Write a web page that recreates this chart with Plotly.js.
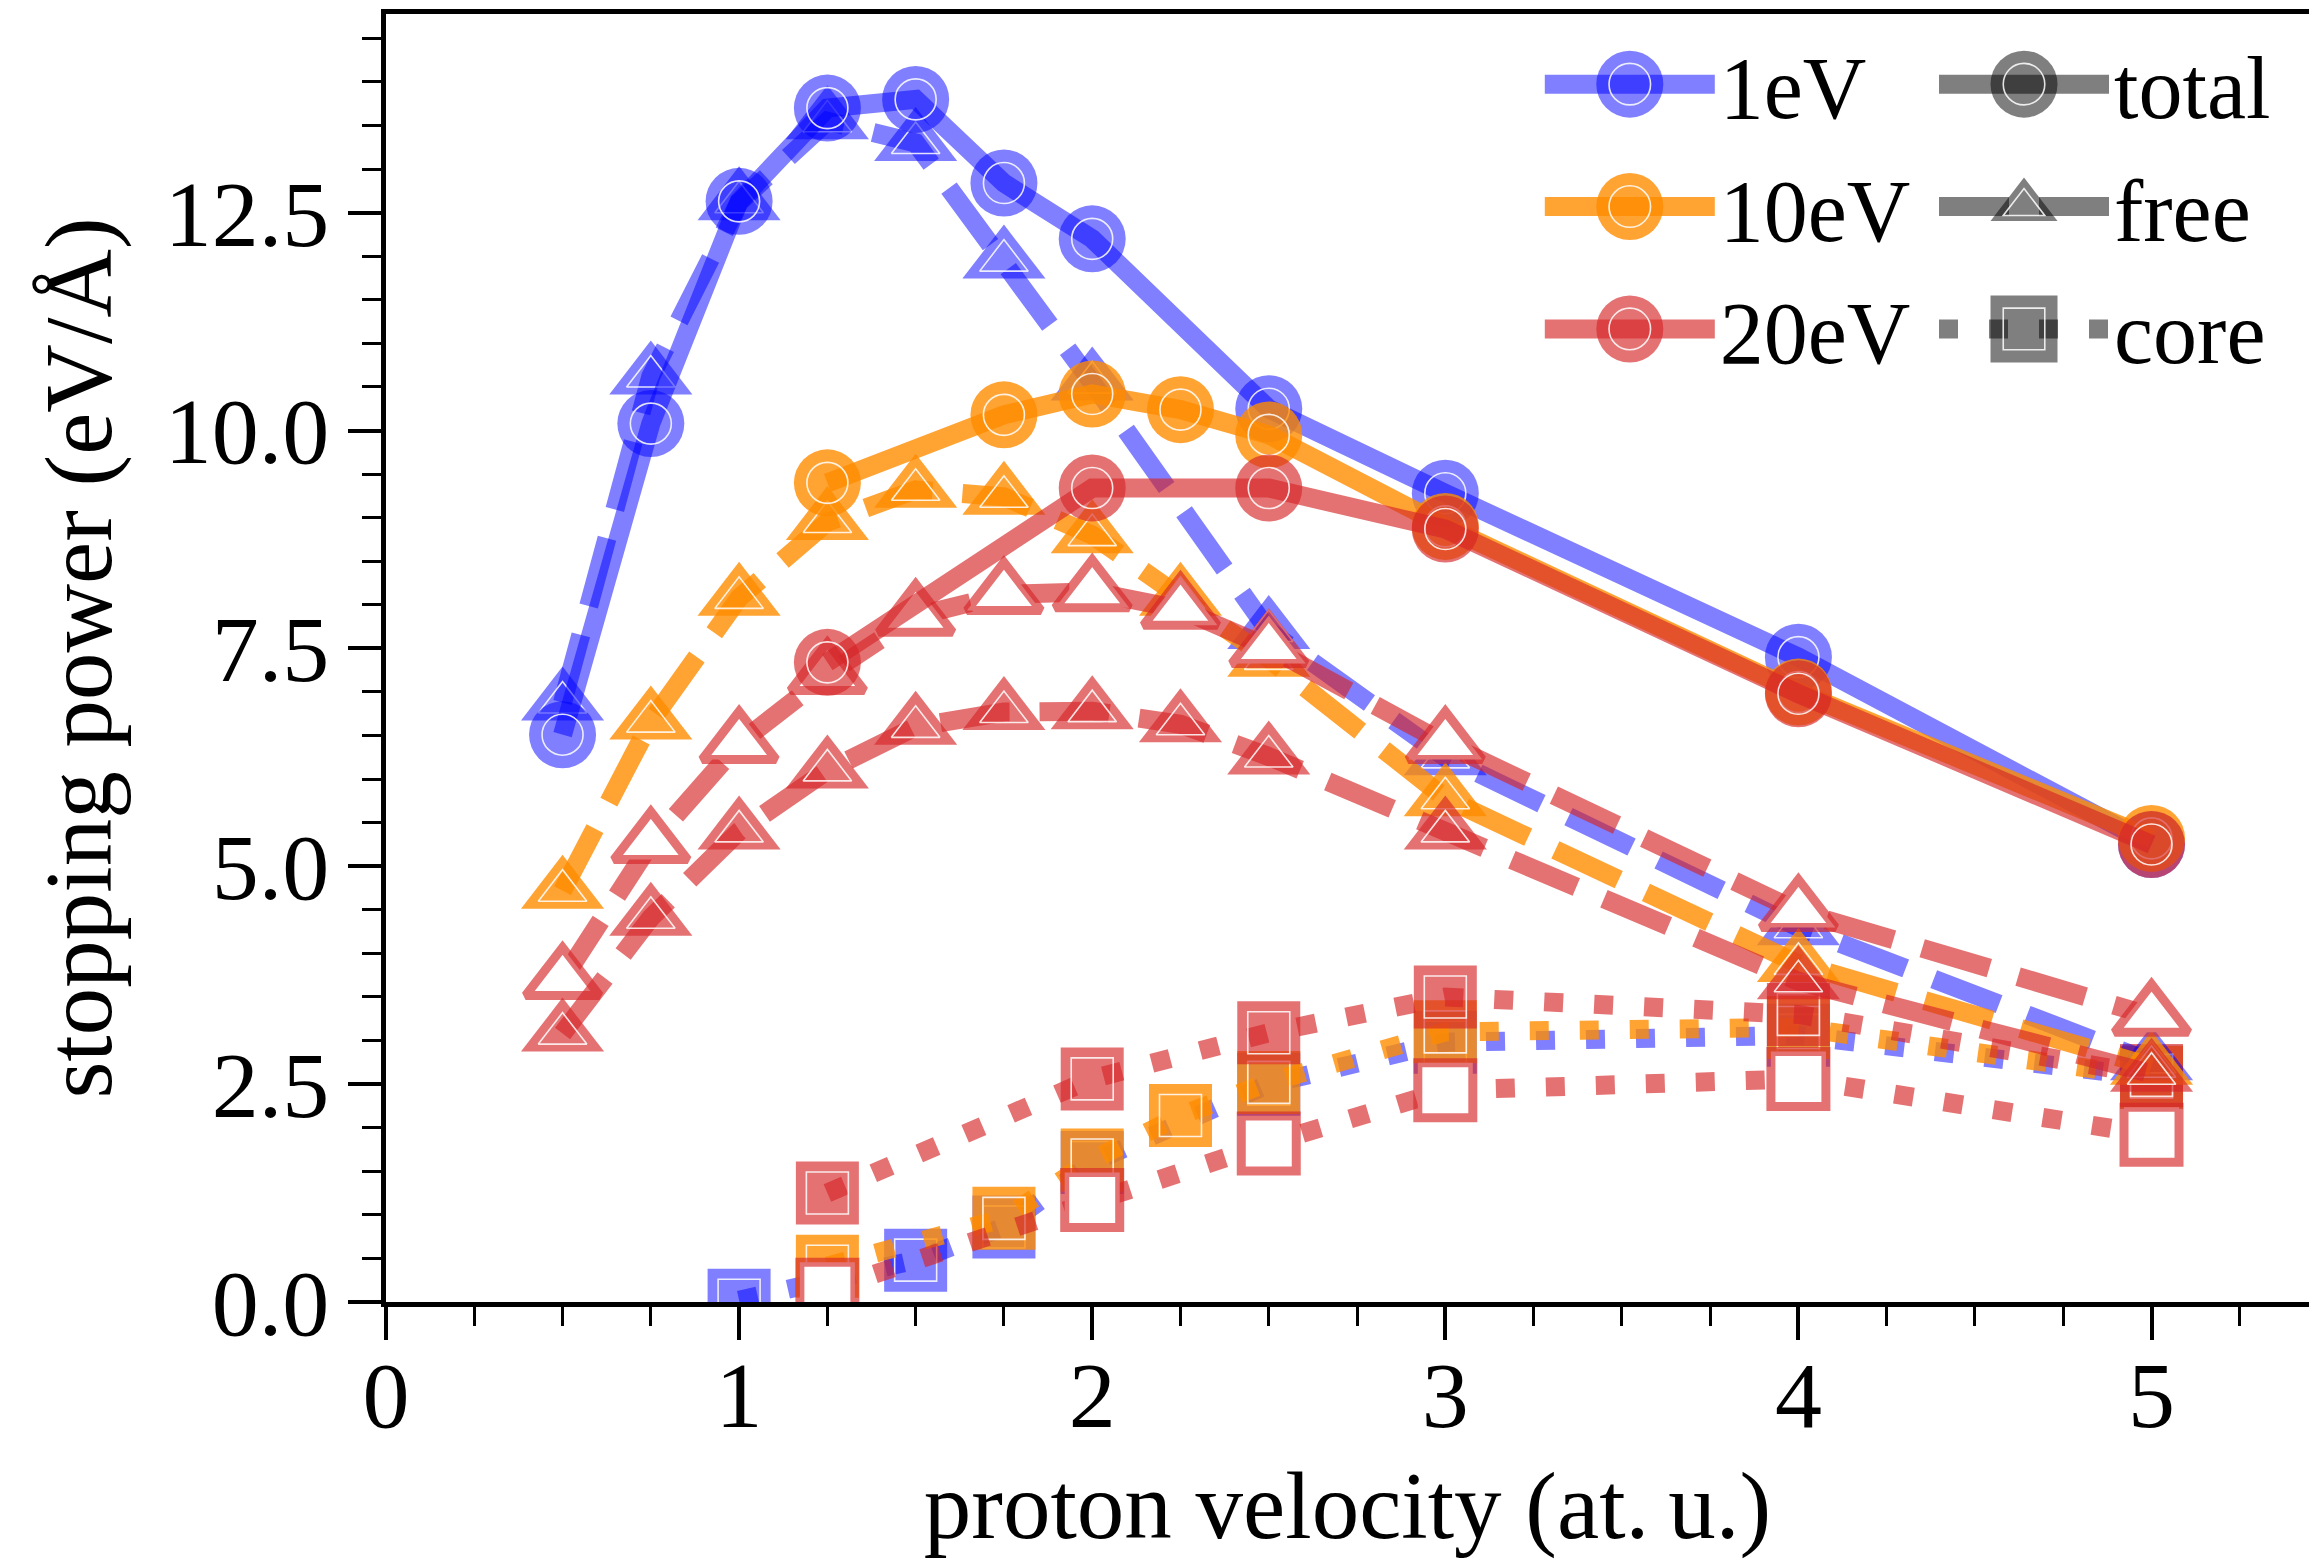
<!DOCTYPE html>
<html>
<head>
<meta charset="utf-8">
<script src="https://cdn.plot.ly/plotly-3.0.1.min.js"></script>
<style>html,body{margin:0;padding:0;background:#fff;}#plot{width:2309px;height:1559px;}</style>
</head>
<body>
<div id="plot"></div>
<script>
// ---------------- data ----------------
// proton velocity (at. u.)
const vBlue      = [0.5, 0.75, 1.0, 1.25, 1.5, 1.75, 2.0, 2.5, 3.0, 4.0, 5.0];
const vBlueCore  = [1.0, 1.5, 1.75, 2.0, 2.5, 3.0, 4.0, 5.0];
const vOrange    = [1.25, 1.75, 2.0, 2.25, 2.5, 3.0, 4.0, 5.0];
const vFree      = [0.5, 0.75, 1.0, 1.25, 1.5, 1.75, 2.0, 2.25, 2.5, 3.0, 4.0, 5.0];
const vRed       = [1.25, 2.0, 2.5, 3.0, 4.0, 5.0];

// 1 eV
const totalBlue  = [6.51, 10.08, 12.63, 13.70, 13.80, 12.84, 12.20, 10.25, 9.28, 7.40, 5.25];
const freeBlue   = [6.88, 10.62, 12.62, 13.55, 13.30, 11.95, 10.55, 7.70, 6.25, 4.30, 2.75];
const coreBlue   = [0.02, 0.48, 0.86, 1.60, 2.50, 2.98, 3.06, 2.58];
// 10 eV
const totalOrange = [9.40, 10.18, 10.42, 10.24, 9.95, 8.90, 7.00, 5.32];
const freeOrange  = [4.72, 6.66, 8.08, 8.95, 9.32, 9.24, 8.80, 8.08, 7.38, 5.78, 3.88, 2.70];
const coreOrange  = [0.41, 0.96, 1.63, 2.14, 2.52, 3.10, 3.15, 2.58];
// 20 eV (two decompositions: A hollow markers, B filled markers)
const totalRed   = [7.34, 9.34, 9.34, 8.87, 6.98, 5.25];
const freeRedA   = [3.70, 5.26, 6.41, 7.20, 7.87, 8.12, 8.15, 7.95, 7.51, 6.41, 4.48, 3.28];
const freeRedB   = [3.08, 4.41, 5.40, 6.10, 6.60, 6.77, 6.78, 6.63, 6.26, 5.40, 3.68, 2.62];
const coreRedA   = [0.14, 1.17, 1.82, 2.43, 2.56, 1.92];
const coreRedB   = [1.25, 2.56, 3.09, 3.50, 3.30, 2.60];

const tempNames  = ['1eV', '10eV', '20eV'];
const partNames  = ['total', 'free', 'core'];

// ---------------- styles ----------------
const FONT = 'Liberation Serif';
const C_BLUE = 'rgba(0,0,255,0.5)';
const C_ORANGE = 'rgba(255,140,0,0.8)';
const C_RED = 'rgba(214,39,40,0.65)';
const C_GRAY = 'rgba(0,0,0,0.5)';
const LW = 19;
const DASH = {total: 'solid', free: '70px,30px', core: '19px,31px'};
const SYM = {total: 'circle', free: 'triangle-up', core: 'square'};
const SIZE = {total: 67, free: 72, core: 63};
const RING = {total: 41, free: 42, core: 42};

const traces = [];
function addSeries(x, y, color, part, filled, opts) {
  opts = opts || {};
  traces.push({
    type: 'scatter', mode: 'lines+markers', x: x, y: y,
    name: opts.name || part,
    showlegend: !!opts.name,
    legend: opts.legend || 'legend',
    legendgroup: opts.group || undefined,
    hoverinfo: 'skip',
    line: {color: color, width: LW, dash: DASH[part]},
    marker: filled
      ? {symbol: SYM[part], size: SIZE[part], color: color, line: {width: 0}}
      : {symbol: SYM[part], size: SIZE[part] - 8, color: 'rgba(255,255,255,1)', line: {color: color, width: 9}}
  });
  if (filled) {
    traces.push({
      type: 'scatter', mode: 'markers', x: x, y: y, showlegend: false, hoverinfo: 'skip',
      marker: {symbol: SYM[part] + '-open', size: RING[part], color: 'rgba(255,255,255,0.85)', line: {width: 1.6}}
    });
  }
}

// core
addSeries(vBlueCore, coreBlue, C_BLUE, 'core', true);
addSeries(vOrange, coreOrange, C_ORANGE, 'core', true);
addSeries(vRed, coreRedB, C_RED, 'core', true);
addSeries(vRed, coreRedA, C_RED, 'core', false);
// free
addSeries(vBlue, freeBlue, C_BLUE, 'free', true);
addSeries(vFree, freeOrange, C_ORANGE, 'free', true);
addSeries(vFree, freeRedA, C_RED, 'free', false);
addSeries(vFree, freeRedB, C_RED, 'free', true);
// total
addSeries(vBlue, totalBlue, C_BLUE, 'total', true, {name: tempNames[0], group: 'a1', legend: 'legend'});
addSeries(vOrange, totalOrange, C_ORANGE, 'total', true, {name: tempNames[1], group: 'a2', legend: 'legend'});
addSeries(vRed, totalRed, C_RED, 'total', true, {name: tempNames[2], group: 'a3', legend: 'legend'});

// legend proxies for the component styles (no data)
partNames.forEach(function (p, i) {
  traces.push({
    type: 'scatter', mode: 'lines+markers', x: [null], y: [null], name: p,
    legend: 'legend2', legendgroup: 'b' + (i + 1), hoverinfo: 'skip',
    line: {color: C_GRAY, width: LW, dash: DASH[p]},
    marker: {symbol: SYM[p], size: SIZE[p], color: C_GRAY, line: {width: 0}}
  });
});

const axisCommon = {
  showgrid: false, zeroline: false, showline: true, linewidth: 5, linecolor: 'black',
  ticks: 'outside', ticklen: 33, tickwidth: 4, tickcolor: 'black',
  tickfont: {family: FONT, size: 94, color: 'black'}
};

const legendCommon = {
  xanchor: 'left', yanchor: 'top', bgcolor: 'rgba(0,0,0,0)', borderwidth: 0,
  font: {family: FONT, size: 88, color: 'black'},
  itemwidth: 170, tracegroupgap: 5, traceorder: 'grouped', itemclick: false, itemdoubleclick: false
};

const layout = {
  width: 2309, height: 1559,
  margin: {l: 386, r: 0, t: 14, b: 257},
  paper_bgcolor: 'white', plot_bgcolor: 'white',
  font: {family: FONT, size: 94, color: 'black'},
  showlegend: true,
  xaxis: Object.assign({}, axisCommon, {
    range: [0, 5.446], tick0: 0, dtick: 1, mirror: true, ticklabelstandoff: -26,
    minor: {dtick: 0.25, tick0: 0, ticks: 'outside', ticklen: 19, tickwidth: 3, tickcolor: 'black', showgrid: false},
    title: {text: 'proton velocity (at.\u2009u.)', font: {family: FONT, size: 95, color: 'black'}, standoff: 52}
  }),
  yaxis: Object.assign({}, axisCommon, {
    range: [0, 14.78], tick0: 0, dtick: 2.5, tickformat: '.1f',
    minor: {dtick: 0.5, tick0: 0, ticks: 'outside', ticklen: 19, tickwidth: 3, tickcolor: 'black', showgrid: false},
    title: {text: 'stopping power (eV/\u00C5)', font: {family: FONT, size: 95, color: 'black'}, standoff: 23}
  }),
  legend: Object.assign({}, legendCommon, {x: 0.60, y: 0.995}),
  legend2: Object.assign({}, legendCommon, {x: 0.805, y: 0.995})
};

// legend swatch sizes (px width of the drawn symbol) to match the plotted markers
const SWATCH = {circle: 67, 'triangle-up': 83, square: 63};
const nameSym = {'1eV': 'circle', '10eV': 'circle', '20eV': 'circle', total: 'circle', free: 'triangle-up', core: 'square'};

const gd = document.getElementById('plot');
Plotly.newPlot(gd, traces, layout, {staticPlot: true, displayModeBar: false}).then(function () {
  gd.querySelectorAll('.infolayer g.traces').forEach(function (g) {
    const txt = g.querySelector('text.legendtext');
    const sym = nameSym[txt ? txt.textContent.trim() : ''] || 'circle';
    g.querySelectorAll('path.scatterpts').forEach(function (p) {
      const bb = p.getBBox();
      if (!bb.width) return;
      const t = p.getAttribute('transform') || '';
      const k = SWATCH[sym] / bb.width;
      p.setAttribute('transform', t + ' scale(' + k + ')');
      const ring = p.cloneNode(false);
      const kr = k * 0.62;
      ring.setAttribute('transform', t + ' scale(' + kr + ')');
      ring.style.fill = 'none';
      ring.style.stroke = 'rgba(255,255,255,0.85)';
      ring.style.strokeWidth = (1.6 / kr) + 'px';
      ring.style.opacity = 1;
      p.parentNode.appendChild(ring);
    });
    g.querySelectorAll('path.js-line').forEach(function (p) {
      p.style.strokeWidth = LW + 'px';
    });
  });
});
</script>
</body>
</html>
